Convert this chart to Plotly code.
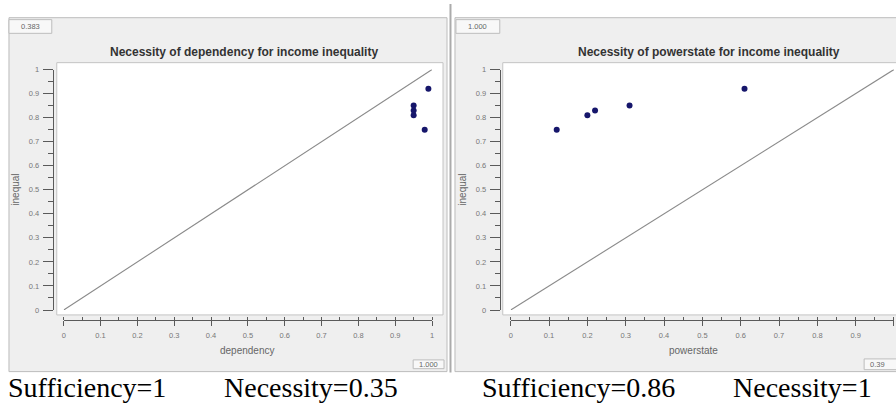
import plotly.graph_objects as go

W, H = 896, 404

# ---- data ----
inequal = [0.75, 0.81, 0.83, 0.85, 0.92]
dependency = [0.98, 0.95, 0.95, 0.95, 0.99]
powerstate = [0.12, 0.20, 0.22, 0.31, 0.61]
diag = [0, 1]
left_title = "Necessity of dependency for income inequality"
right_title = "Necessity of powerstate for income inequality"
left_caption = ["Sufficiency=1", "Necessity=0.35"]
right_caption = ["Sufficiency=0.86", "Necessity=1"]
corner_labels = ["0.383", "1.000", "1.000", "0.39"]


def px(x):
    return x / W


def py(y):
    return 1 - y / H


fig = go.Figure()
for xs, xa, ya in [(dependency, "x", "y"), (powerstate, "x2", "y2")]:
    fig.add_trace(go.Scatter(x=diag, y=diag, mode="lines", xaxis=xa, yaxis=ya,
                             line=dict(color="#8a8a8a", width=1.1), cliponaxis=False,
                             hoverinfo="skip", showlegend=False))
    fig.add_trace(go.Scatter(x=xs, y=inequal, mode="markers", xaxis=xa, yaxis=ya,
                             marker=dict(color="#16166b", size=6), cliponaxis=False,
                             showlegend=False))

tickfont = dict(family="Liberation Sans", size=7.5, color="#777")


def xaxis(x0, x1):
    return dict(domain=[px(x0), px(x1)], range=[0, 1], anchor="free", position=py(323),
                showline=True, linecolor="#5a5a5a", linewidth=1, ticks="outside", ticklen=5,
                tickcolor="#5a5a5a", tick0=0, dtick=0.1, showgrid=False, zeroline=False,
                minor=dict(dtick=0.05, ticks="inside", ticklen=3, tickcolor="#5a5a5a"),
                tickfont=tickfont, ticklabelstandoff=3, fixedrange=True)


def yaxis(xpos):
    return dict(domain=[py(313), py(67)], range=[0, 1], anchor="free", position=px(xpos),
                showline=True, linecolor="#5a5a5a", linewidth=1, ticks="outside", ticklen=10,
                tickcolor="#5a5a5a", tick0=0, dtick=0.1, showgrid=False, zeroline=False,
                minor=dict(dtick=0.05, ticks="outside", ticklen=5, tickcolor="#5a5a5a"),
                tickfont=tickfont, ticklabelstandoff=2, fixedrange=True)


shapes = []


def rect(x0, y0, x1, y1, fill, line, lw=1):
    shapes.append(dict(type="rect", xref="paper", yref="paper", x0=px(x0), x1=px(x1),
                       y0=py(y1), y1=py(y0), fillcolor=fill,
                       line=dict(color=line, width=lw), layer="below"))


rect(7, 14, 447, 376, "#efefef", "#bcbcbc")
rect(455, 14, 905, 376, "#efefef", "#bcbcbc")
shapes.append(dict(type="line", xref="paper", yref="paper", x0=px(450.5), x1=px(450.5),
                   y0=py(377), y1=py(0), line=dict(color="#ababab", width=2), layer="below"))
rect(55, 60, 443, 318, "white", "#c4c4c4")
rect(503, 60, 905, 318, "white", "#c4c4c4")
rect(7, 16, 50, 30, "#f8f8f8", "#bdbdbd")
rect(456, 16, 500, 30, "#f8f8f8", "#bdbdbd")
rect(413, 364, 444, 373, "#f8f8f8", "#bdbdbd")
rect(866, 363, 905, 374, "#f8f8f8", "#bdbdbd")

ann = []


def text(x, y, s, size, color="#555", xanchor="center", bold=False, family="Liberation Sans",
         angle=0):
    ann.append(dict(x=px(x), y=py(y), xref="paper", yref="paper", text=f"<b>{s}</b>" if bold else s,
                    showarrow=False, xanchor=xanchor, yanchor="middle", textangle=angle,
                    font=dict(family=family, size=size, color=color)))


text(243, 49, left_title, 12, "#333", bold=True)
text(710, 49, right_title, 12, "#333", bold=True)
text(247, 354, "dependency", 10, "#666")
text(695, 354, "powerstate", 10, "#666")
text(14, 190, "inequal", 10, "#666", angle=-90)
text(463, 190, "inequal", 10, "#666", angle=-90)
text(28.5, 23, corner_labels[0], 7.5, "#666")
text(478, 23, corner_labels[1], 7.5, "#666")
text(428.5, 368.5, corner_labels[2], 7.5, "#666")
text(870, 368.5, corner_labels[3], 7.5, "#666", xanchor="left")
serif = "Liberation Serif"
text(4, 392, left_caption[0], 28, "black", xanchor="left", family=serif)
text(221, 392, left_caption[1], 28, "black", xanchor="left", family=serif)
text(480, 392, right_caption[0], 28, "black", xanchor="left", family=serif)
text(732, 392, right_caption[1], 28, "black", xanchor="left", family=serif)

fig.update_layout(
    width=W, height=H, margin=dict(l=0, r=0, t=0, b=0),
    paper_bgcolor="white", plot_bgcolor="rgba(0,0,0,0)",
    xaxis=xaxis(62, 432), yaxis=yaxis(51),
    xaxis2=xaxis(511, 896), yaxis2=yaxis(500),
    shapes=shapes, annotations=ann, showlegend=False,
)
fig.write_html("out.html", config={"displayModeBar": False})
